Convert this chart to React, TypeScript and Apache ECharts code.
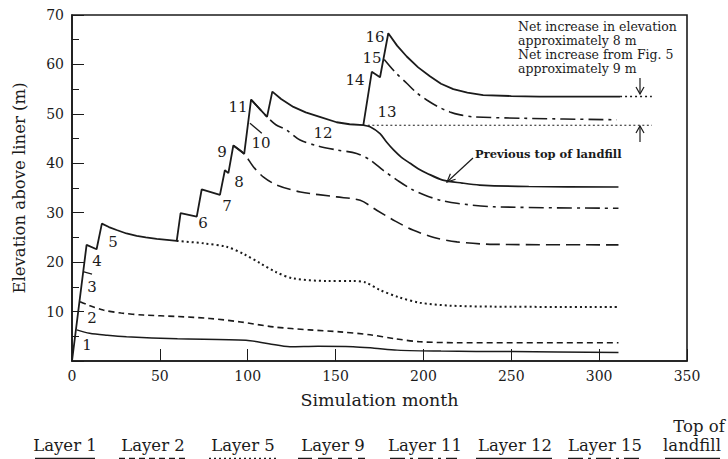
import React, { useEffect, useRef } from "react";
import * as echarts from "echarts";

const INK = "#1b1b1b";
const FONT = '"DejaVu Serif", "Liberation Serif", serif';

// x: simulation month, y: elevation above liner (m)
const topOfLandfill = [
  [0, 0], [8.3, 23.5], [14, 22.6], [17, 27.8], [21, 27.1], [25.4, 26.5], [31, 25.8], [36.8, 25.3],
  [42, 25.0], [48.2, 24.7], [54, 24.5], [59.6, 24.3], [61.8, 29.9], [71, 29.2], [73.8, 34.7],
  [84.2, 33.6], [87, 38.6], [89, 38.0], [91.8, 43.6], [98, 41.9], [101.9, 52.9], [111, 49.4],
  [114, 54.5], [119, 53.0], [126, 51.4], [133, 50.3], [141, 49.4], [150.6, 48.3], [158, 47.9],
  [165.8, 47.7], [170.6, 58.5], [175.3, 57.4], [180, 66.3], [185, 63.8], [190.5, 61.6],
  [197, 59.4], [203.7, 57.6], [210, 56.1], [217, 55.0], [225, 54.3], [234, 53.8], [250, 53.6],
  [266, 53.5], [311.9, 53.5],
];
const topExtension = [[311.9, 53.5], [330, 53.5]];
const previousTop = [[165.8, 47.7], [330, 47.7]];

const layer1 = [
  [2.7, 6.3], [10, 5.6], [20, 5.2], [31, 4.9], [60, 4.5], [99, 4.2], [112, 3.5], [124, 2.9],
  [140, 3.0], [160, 2.9], [172, 2.6], [185, 2.2], [210, 2.0], [250, 1.9], [311, 1.7],
];
const layer2 = [
  [4.6, 12.0], [10, 11.2], [17.8, 10.3], [28, 9.7], [40.6, 9.3], [60, 9.0], [78.5, 8.6],
  [96, 7.9], [114.6, 6.9], [135, 6.3], [152.5, 5.9], [169.6, 5.3], [184, 4.5], [198, 3.9],
  [220, 3.7], [311, 3.7],
];
const layer3 = [[6.3, 18.1], [11.4, 17.6]];
const layer5 = [
  [59.6, 24.3], [75, 23.8], [88, 23.1], [98, 21.6], [107, 19.8], [116, 18.0], [126, 16.7],
  [145, 16.2], [160, 16.2], [167, 15.9], [175, 14.4], [186, 12.9], [198, 11.8], [215, 11.2],
  [240, 11.0], [311, 10.9],
];
const layer9 = [
  [91.8, 43.6], [98, 41.9], [103.2, 39.3], [109, 37.2], [116.5, 35.6], [130, 34.2],
  [150.6, 33.2], [164, 32.5], [173.4, 30.5], [184, 28.3], [194, 26.5], [206, 25.0],
  [219, 24.1], [240, 23.6], [311, 23.5],
];
const layer10 = [[101.3, 48.1], [108, 46.1]];
const layer11 = [
  [101.9, 52.9], [111, 49.4], [116, 47.8], [122.2, 46.7], [129.8, 44.7], [140, 43.5],
  [150.6, 42.7], [162, 42.0], [170, 40.6], [177, 38.6], [185, 36.6], [193, 34.8],
  [202, 33.4], [210, 32.5], [219, 31.9], [240, 31.2], [311, 30.9],
];
const layer12 = [
  [165.8, 47.7], [169.6, 47.4], [175.3, 46.0], [179, 44.3], [183, 42.7], [187.5, 41.2],
  [192.4, 40.0], [197, 38.9], [201.9, 38.0], [211, 36.6], [222, 36.0], [232, 35.6],
  [260, 35.3], [311, 35.2],
];
const layer15 = [
  [177.7, 61.0], [184, 58.4], [190.5, 56.2], [196, 54.3], [201.9, 52.8], [208, 51.5],
  [215, 50.4], [221, 49.8], [228.4, 49.4], [257, 49.1], [310, 48.8],
];

const legendNames = ["Layer 1", "Layer 2", "Layer 5", "Layer 9", "Layer 11", "Layer 12", "Layer 15"];
const layerLabels = ["1", "2", "3", "4", "5", "6", "7", "8", "9", "10", "11", "12", "13", "14", "15", "16"];
const annotationLines = [
  "Net increase in elevation",
  "approximately 8 m",
  "Net increase from Fig. 5",
  "approximately 9 m",
];
const previousTopLabel = "Previous top of landfill";

const DASH_L2 = [6, 4];
const DASH_L5 = [2, 3];
const DASH_L9 = [14, 6];
const DASH_L11 = [15, 5, 3, 5];
const DASH_L15 = [15, 5, 3, 5];

function lineSeries(name: string, data: number[][], width: number, type: any, smooth: number | boolean) {
  return {
    name,
    type: "line",
    data,
    showSymbol: false,
    symbol: "none",
    smooth,
    silent: true,
    lineStyle: { color: INK, width, type },
  };
}

export default function App() {
  const ref = useRef<HTMLDivElement>(null);
  useEffect(() => {
    document.body.style.margin = "0";
    const chart = echarts.init(ref.current!, null, { renderer: "svg" });

    const labelPos: number[][] = [
      [87, 345], [92, 318], [92, 287], [97, 261], [113, 242], [203, 223], [227, 206], [239, 182],
      [222, 152], [261, 143], [238, 107], [323, 133], [387, 112], [355, 80], [372, 58], [375, 37],
    ];
    const numberTexts = layerLabels.map((t, i) => ({
      type: "text",
      x: labelPos[i][0],
      y: labelPos[i][1],
      silent: true,
      style: { text: t, font: `15px ${FONT}`, fill: INK, align: "center", verticalAlign: "middle" },
    }));

    const annY = [26, 40, 54, 68];
    const annTexts = annotationLines.map((t, i) => ({
      type: "text",
      x: 518,
      y: annY[i],
      silent: true,
      style: { text: t, font: `12.5px ${FONT}`, fill: INK, align: "left", verticalAlign: "middle" },
    }));

    const legendCenters = [65, 153, 243, 333, 425, 515, 605];
    const legendSpans = [[35, 95], [119, 185], [209, 276], [298, 365], [390, 457], [476, 552], [568, 640], [665, 720]];
    const legendDashes: any[] = ["solid", DASH_L2, DASH_L5, DASH_L9, DASH_L11, "solid", DASH_L15, "solid"];
    const legendTexts = legendNames.map((t, i) => ({
      type: "text",
      x: legendCenters[i],
      y: 445,
      silent: true,
      style: { text: t, font: `16.5px ${FONT}`, fill: INK, align: "center", verticalAlign: "middle" },
    }));
    const legendLines = legendSpans.map((s, i) => ({
      type: "line",
      silent: true,
      shape: { x1: s[0], y1: 459, x2: s[1], y2: 459 },
      style: { stroke: INK, lineWidth: 2.5, lineDash: legendDashes[i] === "solid" ? null : legendDashes[i] },
    }));

    const stroke = { stroke: INK, lineWidth: 1.2, fill: null };
    const arrows = [
      { type: "line", silent: true, shape: { x1: 640, y1: 78, x2: 640, y2: 94 }, style: stroke },
      { type: "polyline", silent: true, shape: { points: [[636, 87], [640, 94], [644, 87]] }, style: stroke },
      { type: "line", silent: true, shape: { x1: 640, y1: 142, x2: 640, y2: 126 }, style: stroke },
      { type: "polyline", silent: true, shape: { points: [[636, 133], [640, 126], [644, 133]] }, style: stroke },
      { type: "line", silent: true, shape: { x1: 473, y1: 158, x2: 447, y2: 182 }, style: stroke },
      { type: "polyline", silent: true, shape: { points: [[455.6, 179.3], [447, 182], [450.4, 173.7]] }, style: stroke },
    ];

    chart.setOption({
      animation: false,
      backgroundColor: "#ffffff",
      grid: { left: 72, right: 41, top: 15, bottom: 98, show: true, borderColor: INK, borderWidth: 1.6, backgroundColor: "transparent" },
      xAxis: {
        type: "value",
        min: 0,
        max: 350,
        interval: 50,
        name: "Simulation month",
        nameLocation: "middle",
        nameGap: 30,
        nameTextStyle: { fontFamily: FONT, fontSize: 17.5, color: INK },
        axisLine: { show: true, lineStyle: { color: INK, width: 1.6 } },
        axisTick: { show: true, inside: true, length: 12, lineStyle: { color: INK, width: 1 } },
        axisLabel: { fontFamily: FONT, fontSize: 14, color: INK, margin: 8 },
        splitLine: { show: false },
      },
      yAxis: {
        type: "value",
        min: 0,
        max: 70,
        interval: 10,
        name: "Elevation above liner (m)",
        nameLocation: "middle",
        nameGap: 44,
        nameTextStyle: { fontFamily: FONT, fontSize: 16.5, color: INK },
        axisLine: { show: true, lineStyle: { color: INK, width: 1.6 } },
        axisTick: { show: true, inside: true, length: 12, lineStyle: { color: INK, width: 1 } },
        minorTick: { show: true, splitNumber: 2, length: 7, lineStyle: { color: INK, width: 1 } },
        axisLabel: { fontFamily: FONT, fontSize: 14, color: INK, margin: 8, showMinLabel: false },
        splitLine: { show: false },
      },
      series: [
        lineSeries("Top of landfill", topOfLandfill, 1.8, "solid", false),
        lineSeries("Top extension", topExtension, 1.5, [2, 3], false),
        lineSeries("Previous top", previousTop, 1.2, [2, 2.5], false),
        lineSeries("Layer 1", layer1, 1.5, "solid", 0.3),
        lineSeries("Layer 2", layer2, 1.6, DASH_L2, 0.3),
        lineSeries("Layer 3", layer3, 1.3, "solid", false),
        lineSeries("Layer 5", layer5, 2, DASH_L5, 0.3),
        lineSeries("Layer 9", layer9, 1.6, DASH_L9, 0.3),
        lineSeries("Layer 10", layer10, 1.3, "solid", false),
        lineSeries("Layer 11", layer11, 1.6, DASH_L11, 0.3),
        lineSeries("Layer 12", layer12, 1.7, "solid", 0.3),
        lineSeries("Layer 15", layer15, 1.6, DASH_L15, 0.3),
      ],
      graphic: [
        ...numberTexts,
        ...annTexts,
        {
          type: "text",
          x: 475,
          y: 154,
          silent: true,
          style: { text: previousTopLabel, font: `bold 11.5px ${FONT}`, fill: INK, align: "left", verticalAlign: "middle" },
        },
        ...arrows,
        ...legendTexts,
        {
          type: "text",
          x: 699,
          y: 426,
          silent: true,
          style: { text: "Top of", font: `16.5px ${FONT}`, fill: INK, align: "center", verticalAlign: "middle" },
        },
        {
          type: "text",
          x: 692,
          y: 445,
          silent: true,
          style: { text: "landfill", font: `16.5px ${FONT}`, fill: INK, align: "center", verticalAlign: "middle" },
        },
        ...legendLines,
      ],
    });
    return () => chart.dispose();
  }, []);
  return <div ref={ref} style={{ position: "fixed", left: 0, top: 0, width: 728, height: 459 }} />;
}
